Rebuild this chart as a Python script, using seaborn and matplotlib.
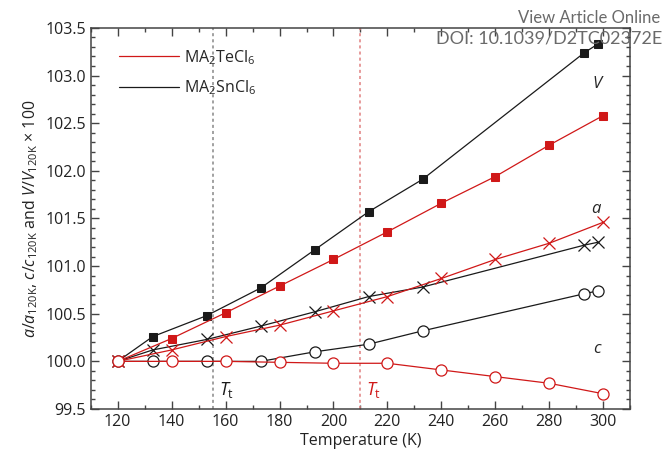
import matplotlib
matplotlib.use('Agg')
import matplotlib.pyplot as plt
import seaborn as sns
from matplotlib.lines import Line2D
from matplotlib.ticker import MultipleLocator, FormatStrFormatter

# MA2SnCl6 (black)
temp_sn = [120, 133, 153, 173, 193, 213, 233, 293, 298]
vol_sn = [100.00, 100.26, 100.48, 100.77, 101.17, 101.57, 101.91, 103.24, 103.33]
a_sn = [100.00, 100.12, 100.23, 100.37, 100.52, 100.68, 100.78, 101.22, 101.25]
c_sn = [100.00, 100.00, 100.00, 100.00, 100.10, 100.18, 100.32, 100.71, 100.74]

# MA2TeCl6 (red)
temp_te = [120, 140, 160, 180, 200, 220, 240, 260, 280, 300]
vol_te = [100.00, 100.24, 100.51, 100.79, 101.07, 101.36, 101.66, 101.94, 102.27, 102.58]
a_te = [100.00, 100.12, 100.26, 100.38, 100.53, 100.68, 100.87, 101.07, 101.24, 101.46]
c_te = [100.00, 100.00, 100.00, 99.99, 99.98, 99.98, 99.91, 99.84, 99.77, 99.66]

# transition temperatures
tt_sn = 155.3
tt_te = 210.0

legend_labels = [r'MA$_2$TeCl$_6$', r'MA$_2$SnCl$_6$']

sns.set_style('ticks')
plt.rcParams['font.family'] = ['Open Sans', 'DejaVu Sans']
plt.rcParams['mathtext.fontset'] = 'custom'
plt.rcParams['mathtext.rm'] = 'Open Sans'
plt.rcParams['mathtext.it'] = 'Open Sans:italic'

RED = '#d01818'
BLACK = '#1a1a1a'

fig = plt.figure(figsize=(6.62, 4.57), dpi=100)
ax = fig.add_axes([0.137, 0.105, 0.815, 0.834])

# vertical transition lines
ax.axvline(tt_sn, color='#888888', ls=(0, (2, 2)), lw=1.1, zorder=1)
ax.axvline(tt_te, color='#e08080', ls=(0, (2, 2)), lw=1.1, zorder=1)

def draw(x, y, color, marker, filled):
    kw = dict(marker=marker, color=color, lw=0.9, markersize=6,
              markeredgecolor=color, ax=ax, zorder=3)
    if marker == 'x':
        kw.update(markersize=8, markeredgewidth=0.9)
    elif not filled:
        kw.update(markerfacecolor='white', markersize=8, markeredgewidth=0.9)
    sns.lineplot(x=x, y=y, **kw)

draw(temp_sn, vol_sn, BLACK, 's', True)
draw(temp_sn, a_sn, BLACK, 'x', False)
draw(temp_sn, c_sn, BLACK, 'o', False)
draw(temp_te, vol_te, RED, 's', True)
draw(temp_te, a_te, RED, 'x', False)
draw(temp_te, c_te, RED, 'o', False)

ax.set_xlim(110, 310)
ax.set_ylim(99.5, 103.5)
ax.xaxis.set_major_locator(MultipleLocator(20))
ax.xaxis.set_minor_locator(MultipleLocator(10))
ax.yaxis.set_major_locator(MultipleLocator(0.5))
ax.yaxis.set_minor_locator(MultipleLocator(0.1))
ax.yaxis.set_major_formatter(FormatStrFormatter('%.1f'))
ax.tick_params(which='both', direction='in', top=True, right=True,
               colors='#444444', labelcolor='#222222', width=1.0)
ax.tick_params(which='major', length=6, labelsize=11.5)
ax.tick_params(which='minor', length=3)
for sp in ax.spines.values():
    sp.set_color('#444444')
    sp.set_linewidth(1.1)

ax.set_xlabel('Temperature (K)', fontsize=11.5, color='#222222', labelpad=2)
ax.set_ylabel(r'$a/a_{\mathrm{120K}}$, $c/c_{\mathrm{120K}}$ and $V/V_{\mathrm{120K}}$ × 100',
              fontsize=11.5, color='#222222', labelpad=4)

# series annotations
ax.text(297.6, 102.91, 'V', style='italic', fontsize=12, ha='center', va='center')
ax.text(297.2, 101.60, 'a', style='italic', fontsize=12, ha='center', va='center')
ax.text(297.7, 100.13, 'c', style='italic', fontsize=12, ha='center', va='center')
ax.text(160.5, 99.70, r'$T_{\mathrm{t}}$', fontsize=13, ha='center', va='center', color=BLACK)
ax.text(214.7, 99.70, r'$T_{\mathrm{t}}$', fontsize=13, ha='center', va='center', color=RED)

handles = [Line2D([], [], color=RED, lw=0.9), Line2D([], [], color=BLACK, lw=0.9)]
ax.legend(handles, legend_labels, loc='upper left', frameon=False, fontsize=11.5,
          handlelength=3.8, handletextpad=0.3, labelspacing=0.75,
          bbox_to_anchor=(0.025, 0.985))

fig.text(0.997, 0.961, 'View Article Online', ha='right', va='center',
         color='#6a6a6a', fontsize=12, family=['Lato', 'DejaVu Sans'])
fig.text(1.0, 0.915, 'DOI: 10.1039/D2TC02372E', ha='right', va='center',
         color='#6a6a6a', fontsize=13, family=['Lato', 'DejaVu Sans'])

fig.savefig('out.png', dpi=100)
